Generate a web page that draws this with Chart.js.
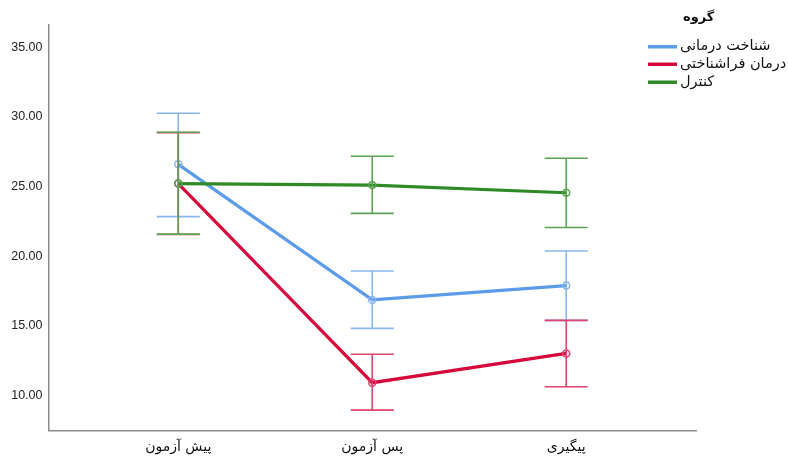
<!DOCTYPE html>
<html>
<head>
<meta charset="utf-8">
<script src="https://cdn.jsdelivr.net/npm/chart.js@4.4.1/dist/chart.umd.min.js"></script>
<style>
html,body{margin:0;padding:0;background:#fff;}
#wrap{width:788px;height:461px;position:relative;}
</style>
</head>
<body>
<div id="wrap"><canvas id="c" width="788" height="461"></canvas></div>
<script>
const categories = ['پیش آزمون', 'پس آزمون', 'پیگیری'];
const legendTitle = 'گروه';
const seriesNames = ['شناخت درمانی', 'درمان فراشناختی', 'کنترل'];
const yTicks = [10, 15, 20, 25, 30, 35];

const cognitiveMean  = [26.6, 16.87, 17.9];
const cognitiveUpper = [30.27, 18.95, 20.38];
const cognitiveLower = [22.85, 14.83, 15.4];

const metaMean  = [25.22, 10.93, 13.03];
const metaUpper = [28.88, 12.97, 15.4];
const metaLower = [21.57, 8.96, 10.64];

const controlMean  = [25.22, 25.11, 24.56];
const controlUpper = [28.9, 27.18, 27.04];
const controlLower = [21.59, 23.08, 22.07];

const colors = ['#5b9be8', '#d6083b', '#2f8a25'];
const barColors = ['#88b7f0', '#e0436b', '#5ba352'];
const drawOrder = [3, 2, 1];

function pts(arr){ return arr.map((v,i)=>({x:i, y:v})); }

const means = [cognitiveMean, metaMean, controlMean];
const uppers = [cognitiveUpper, metaUpper, controlUpper];
const lowers = [cognitiveLower, metaLower, controlLower];

const datasets = seriesNames.map((name, k) => ({
  label: name,
  order: drawOrder[k],
  data: pts(means[k]),
  borderColor: colors[k],
  backgroundColor: 'rgba(0,0,0,0)',
  borderWidth: 3.2,
  pointRadius: 3.5,
  pointBorderWidth: 1.5,
  pointBorderColor: barColors[k],
  pointBackgroundColor: 'rgba(255,255,255,0)',
  tension: 0,
  errUpper: uppers[k],
  errLower: lowers[k],
  errColor: barColors[k]
}));

const errorBars = {
  id: 'errorBars',
  afterDatasetDraw(chart, args) {
    const ds = chart.data.datasets[args.index];
    const xs = chart.scales.x, ys = chart.scales.y;
    const ctx = chart.ctx;
    ctx.save();
    ctx.strokeStyle = ds.errColor;
    ctx.lineWidth = 1.6;
    const cap = 21.5;
    ds.data.forEach((p, i) => {
      const x = xs.getPixelForValue(p.x);
      const yt = ys.getPixelForValue(ds.errUpper[i]);
      const yb = ys.getPixelForValue(ds.errLower[i]);
      ctx.beginPath();
      ctx.moveTo(x, yt); ctx.lineTo(x, yb);
      ctx.moveTo(x - cap, yt); ctx.lineTo(x + cap, yt);
      ctx.moveTo(x - cap, yb); ctx.lineTo(x + cap, yb);
      ctx.stroke();
    });
    ctx.restore();
  }
};

const customLegend = {
  id: 'customLegend',
  afterDraw(chart) {
    const ctx = chart.ctx;
    ctx.save();
    ctx.fillStyle = '#111';
    ctx.textBaseline = 'middle';
    ctx.textAlign = 'left';
    ctx.font = 'bold 13px "DejaVu Sans"';
    ctx.fillText(legendTitle, 683, 18);
    ctx.font = '14.5px "DejaVu Sans"';
    const ys = [46.5, 64, 82];
    chart.data.datasets.forEach((ds, k) => {
      ctx.fillStyle = ds.borderColor;
      ctx.fillRect(648, ys[k] - 1.5, 29, 3.5);
      ctx.fillStyle = '#111';
      ctx.fillText(ds.label, 680, ys[k]);
    });
    ctx.restore();
  }
};

new Chart(document.getElementById('c'), {
  type: 'line',
  data: { datasets },
  plugins: [errorBars, customLegend],
  options: {
    responsive: false,
    animation: false,
    layout: { padding: { top: 25, right: 92, left: 0, bottom: 0 } },
    plugins: { legend: { display: false }, tooltip: { enabled: false } },
    scales: {
      x: {
        type: 'linear',
        min: -0.669,
        max: 2.669,
        grid: { display: false, drawTicks: false },
        border: { display: true, color: '#8c8c8c', width: 1.5 },
        afterBuildTicks(scale) { scale.ticks = categories.map((c, i) => ({ value: i })); },
        afterFit(scale) { scale.height = 30.5; },
        ticks: {
          padding: 8,
          color: '#111',
          font: { family: 'DejaVu Sans', size: 14 },
          maxRotation: 0,
          autoSkip: false,
          callback: (v) => categories[v]
        }
      },
      y: {
        min: 7.5,
        max: 36.6,
        grid: { display: false, drawTicks: false },
        border: { display: true, color: '#8c8c8c', width: 1.5 },
        afterBuildTicks(scale) { scale.ticks = yTicks.map(v => ({ value: v })); },
        afterFit(scale) { scale.width = 48.5; },
        ticks: {
          padding: 6,
          color: '#222',
          font: { family: 'Liberation Sans', size: 12.5 },
          callback: (v) => Number(v).toFixed(2)
        }
      }
    }
  }
});
</script>
</body>
</html>
